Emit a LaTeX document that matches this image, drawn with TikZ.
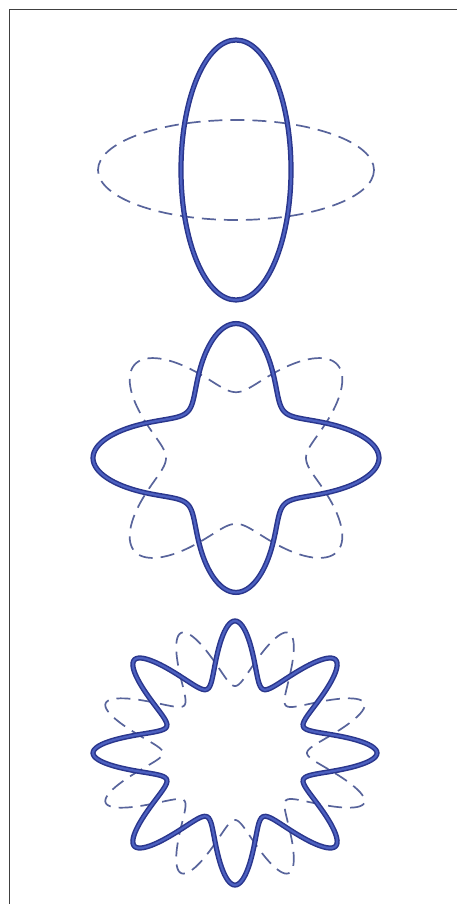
\documentclass[tikz,border=0pt]{standalone}
\usetikzlibrary{calc}
\definecolor{tubedark}{RGB}{42,54,140}
\definecolor{tubelight}{RGB}{76,96,192}
\definecolor{ghostblue}{RGB}{88,100,155}
\tikzset{
  tube/.style={draw=tubedark, line width=1.5pt, double=tubelight, double distance=2.2pt},
  ghost/.style={draw=ghostblue, line width=1.7pt, dash pattern=on 14pt off 8pt},
  frameline/.style={draw=black!75, line width=1pt},
}
\begin{document}
\begin{tikzpicture}[x=1pt, y=-1pt]
    \useasboundingbox (0,0) rectangle (457,904);
    % frame
    \draw[frameline] (9,904) -- (9,10) -- (457,10);
    % mode 2
    \coordinate (c1) at (236,170);
    \draw[ghost] (c1) ellipse [x radius=138, y radius=50];
    \draw[tube] (c1) ellipse [x radius=55, y radius=130];
    % mode 4
    \coordinate (c2) at (236,458);
    \draw[ghost] plot[domain=0:360, samples=241, smooth cycle, variable=\t]
      ({236+(106+36*cos(4*\t))*cos(\t+45-0.25/4*sin(4*\t)*57.3)},
       {458+0.94*(106+36*cos(4*\t))*sin(\t+45-0.25/4*sin(4*\t)*57.3)});
    \draw[tube] plot[domain=0:360, samples=241, smooth cycle, variable=\t]
      ({236+(106+37*cos(4*\t))*cos(\t-0.25/4*sin(4*\t)*57.3)},
       {458+0.94*(106+37*cos(4*\t))*sin(\t-0.25/4*sin(4*\t)*57.3)});
    % mode 8
    \coordinate (c3) at (235,753);
    \draw[ghost] plot[domain=0:360, samples=361, smooth cycle, variable=\t]
      ({235+(106+34*cos(8*\t))*cos(\t+22.5-0.25/8*sin(8*\t)*57.3)},
       {753+0.93*(106+34*cos(8*\t))*sin(\t+22.5-0.25/8*sin(8*\t)*57.3)});
    \draw[tube] plot[domain=0:360, samples=361, smooth cycle, variable=\t]
      ({235+(108+34*cos(8*\t))*cos(\t-0.25/8*sin(8*\t)*57.3)},
       {753+0.93*(108+34*cos(8*\t))*sin(\t-0.25/8*sin(8*\t)*57.3)});
\end{tikzpicture}
\end{document}
